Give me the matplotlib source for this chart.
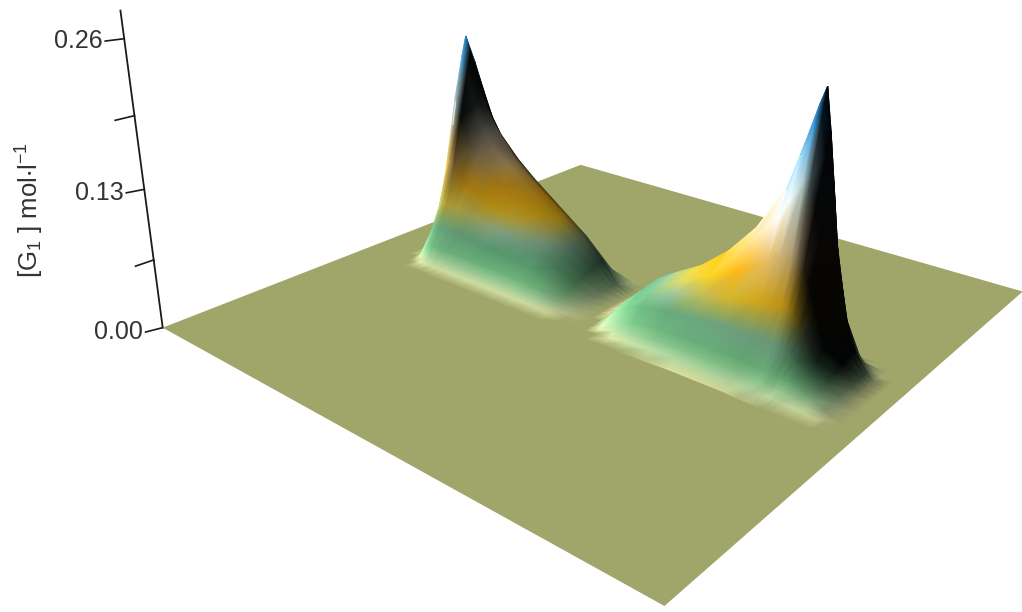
import numpy as np
import matplotlib
matplotlib.use('Agg')
import matplotlib.pyplot as plt
from matplotlib.collections import TriMesh
from matplotlib.colors import LinearSegmentedColormap
from matplotlib.tri import Triangulation
from mpl_toolkits.mplot3d import proj3d

plt.rcParams['font.family'] = ['Liberation Sans', 'DejaVu Sans']
plt.rcParams['mathtext.fontset'] = 'custom'
plt.rcParams['mathtext.rm'] = 'Liberation Sans'
plt.rcParams['mathtext.default'] = 'regular'

# heights, rows follow peak_v, columns peak1_u / peak2_u
peak_v = [0.40, 0.42, 0.43, 0.44, 0.46, 0.48, 0.50, 0.52, 0.54, 0.55, 0.56, 0.58, 0.60, 0.62]

peak1_u = [0.08, 0.10, 0.11, 0.12, 0.13, 0.14, 0.16, 0.18, 0.20, 0.24, 0.28, 0.32, 0.36, 0.40, 0.44, 0.47, 0.50]
peak1_z = [
    [0, 0, 0, 0, 0, 0, 0, 0, 0, 0, 0, 0, 0, 0, 0, 0, 0],
    [0, 0, 0, .001, .002, .003, .003, .003, .003, .003, .003, .003, .003, .003, .002, 0, 0],
    [0, 0, .001, .004, .007, .008, .008, .008, .008, .008, .008, .008, .008, .007, .004, .001, 0],
    [0, 0, .004, .012, .016, .017, .018, .018, .018, .018, .017, .017, .016, .014, .008, .002, 0],
    [0, .001, .014, .028, .033, .034, .035, .035, .034, .033, .031, .029, .026, .022, .012, .003, 0],
    [0, .002, .024, .050, .056, .056, .055, .054, .052, .048, .045, .041, .036, .029, .016, .004, 0],
    [0, .003, .040, .085, .098, .092, .082, .077, .072, .062, .056, .050, .044, .035, .020, .005, 0],
    [0, .004, .055, .130, .160, .140, .115, .103, .094, .082, .072, .062, .052, .041, .023, .006, 0],
    [0, .005, .060, .150, .200, .185, .152, .130, .115, .100, .086, .073, .060, .046, .026, .007, 0],
    [0, .005, .055, .145, .218, .205, .170, .148, .132, .108, .091, .077, .063, .048, .027, .008, 0],
    [0, .004, .045, .120, .190, .192, .165, .140, .124, .104, .088, .074, .060, .046, .026, .007, 0],
    [0, .002, .015, .050, .085, .100, .090, .076, .068, .056, .048, .040, .032, .024, .014, .004, 0],
    [0, 0, .003, .010, .018, .022, .022, .019, .017, .014, .012, .010, .008, .006, .003, .001, 0],
    [0, 0, 0, 0, 0, 0, 0, 0, 0, 0, 0, 0, 0, 0, 0, 0, 0],
]

peak2_u = [0.50, 0.52, 0.54, 0.57, 0.60, 0.65, 0.70, 0.75, 0.80, 0.82, 0.84, 0.85, 0.86, 0.87, 0.88, 0.90, 0.92, 0.94, 0.95, 0.97]
peak2_z = [
    [0, 0, 0, 0, 0, .001, .002, .002, .002, .001, .001, .001, 0, 0, 0, 0, 0, 0, 0, 0],
    [0, 0, 0, .002, .004, .006, .008, .008, .007, .006, .006, .005, .005, .005, .004, .004, .003, .002, .001, 0],
    [0, 0, .002, .006, .009, .012, .013, .013, .012, .011, .011, .011, .010, .010, .010, .008, .006, .004, .002, 0],
    [0, 0, .005, .012, .017, .020, .021, .021, .021, .020, .020, .020, .019, .018, .017, .013, .009, .005, .002, 0],
    [0, 0, .010, .022, .029, .033, .036, .038, .039, .039, .039, .039, .037, .034, .030, .021, .012, .006, .003, 0],
    [0, .001, .013, .027, .036, .046, .053, .058, .064, .066, .068, .068, .064, .056, .047, .029, .015, .007, .003, 0],
    [0, .002, .015, .030, .040, .053, .067, .080, .096, .105, .112, .112, .100, .085, .068, .037, .018, .007, .003, 0],
    [0, .003, .016, .032, .042, .056, .075, .098, .128, .150, .168, .170, .148, .122, .092, .047, .021, .008, .003, 0],
    [0, .003, .016, .033, .043, .058, .079, .108, .150, .182, .212, .220, .188, .152, .112, .056, .024, .008, .003, 0],
    [0, .003, .016, .033, .043, .058, .080, .110, .155, .190, .225, .240, .205, .165, .120, .060, .025, .008, .003, 0],
    [0, .002, .014, .030, .040, .054, .074, .102, .140, .168, .190, .195, .172, .140, .100, .050, .022, .008, .003, 0],
    [0, .001, .008, .018, .025, .034, .046, .062, .080, .088, .090, .088, .078, .062, .045, .022, .010, .004, .002, 0],
    [0, 0, .002, .005, .007, .010, .014, .018, .022, .022, .022, .020, .017, .013, .009, .005, .002, .001, 0, 0],
    [0, 0, 0, 0, 0, 0, 0, 0, 0, 0, 0, 0, 0, 0, 0, 0, 0, 0, 0, 0],
]

major_ticks = [0.00, 0.13, 0.26]
major_labels = ['0.00', '0.13', '0.26']
minor_ticks = [0.065, 0.195]
z_top = 0.283

floor_col = '#A0A56A'
Z_MAX = 0.25
stops = [(0.0, '#A0A56A'), (0.002, '#E1E8A5'), (0.006, '#BEE1AA'), (0.015, '#7CC88A'),
         (0.03, '#5FA878'), (0.045, '#8FB59A'), (0.06, '#EBBE1E'), (0.08, '#F0AA14'), (0.10, '#E1BE78'),
         (0.13, '#F5F0E1'), (0.17, '#BEE6EB'), (0.205, '#2F86BC'), (0.25, '#0A468C')]
cmap = LinearSegmentedColormap.from_list('conc', [(z / Z_MAX, c) for z, c in stops])
light = np.array([-0.80, -0.20, 0.55])

fig = plt.figure(figsize=(10.22, 6.12), dpi=100)
pos = [126.16 / 1022, -24 / 612, 939.74 / 1022, 939.74 / 612]
ax = fig.add_axes(pos, projection='3d')
ax.set_xlim(0, 1, view_margin=0)
ax.set_ylim(0, 1, view_margin=0)
ax.set_zlim(0, 0.3, view_margin=0)
ax.set_box_aspect((0.985, 1, 0.5349))
ax.view_init(19.0042, -50.446, -0.2547)
ax.set_proj_type('persp', focal_length=0.2309)
ax.set_axis_off()

fu, fv = np.meshgrid([0, 1], [0, 1])
ax.plot_surface(fu, fv, np.zeros((2, 2)), color=floor_col, shade=False, linewidth=0, antialiased=True)

ax.plot([0, 0], [0, 0], [0, z_top], color='#1a1a1a', lw=1.3, clip_on=False)
for z, lab in zip(major_ticks, major_labels):
    ax.plot([-0.007, 0], [-0.025, 0], [z, z], color='#1a1a1a', lw=1.2, clip_on=False)
    ax.text(-0.01, -0.028, z, lab, ha='right', va='center', fontsize=18, color='#333333')
for z in minor_ticks:
    ax.plot([0, 0], [-0.03, 0], [z, z], color='#1a1a1a', lw=1.2, clip_on=False)

fig.text(30 / 1022, 1 - 210 / 612, r'[G$_1$ ] mol$\cdot$l$^{-1}$', rotation=90,
         ha='center', va='center', fontsize=18.5, color='#333333')

# second axes in the plane of the 3d projection, for smooth vertex colours
ax2 = fig.add_axes(pos)
ax2.set_xlim(-0.095, 0.09)
ax2.set_ylim(-0.095, 0.09)
ax2.set_axis_off()


def draw_peak(us, vs, table):
    z = np.array(table, float)
    u, v = np.meshgrid(us, vs)
    dz_dv, dz_du = np.gradient(z, vs, us)
    normal = np.dstack((-dz_du, -dz_dv, np.ones_like(z)))
    normal = normal / np.linalg.norm(normal, axis=2, keepdims=True)
    bright = np.clip(0.2 + 1.3 * (normal @ light), 0.03, 1.2)
    rgb = cmap(z / Z_MAX)[:, :, :3] * bright[:, :, None]
    rgb = np.clip(rgb, 0, 1)
    rgb[z == 0] = matplotlib.colors.to_rgb(floor_col)

    xp, yp, depth = proj3d.proj_transform(u.ravel(), v.ravel(), z.ravel(), ax.get_proj())
    n_v, n_u = z.shape
    ids = np.arange(n_v * n_u).reshape(n_v, n_u)
    a, b, c, d = ids[:-1, :-1].ravel(), ids[:-1, 1:].ravel(), ids[1:, 1:].ravel(), ids[1:, :-1].ravel()
    tris = np.vstack((np.column_stack((a, b, c)), np.column_stack((a, c, d))))
    order = np.argsort(depth[tris].mean(axis=1))[::-1]
    colors = np.column_stack((rgb.reshape(-1, 3), np.ones(n_v * n_u)))
    ax2.add_collection(TriMesh(Triangulation(xp, yp, tris[order]), facecolors=colors))


draw_peak(peak1_u, peak_v, peak1_z)
draw_peak(peak2_u, peak_v, peak2_z)

fig.savefig('out.png', dpi=100)
